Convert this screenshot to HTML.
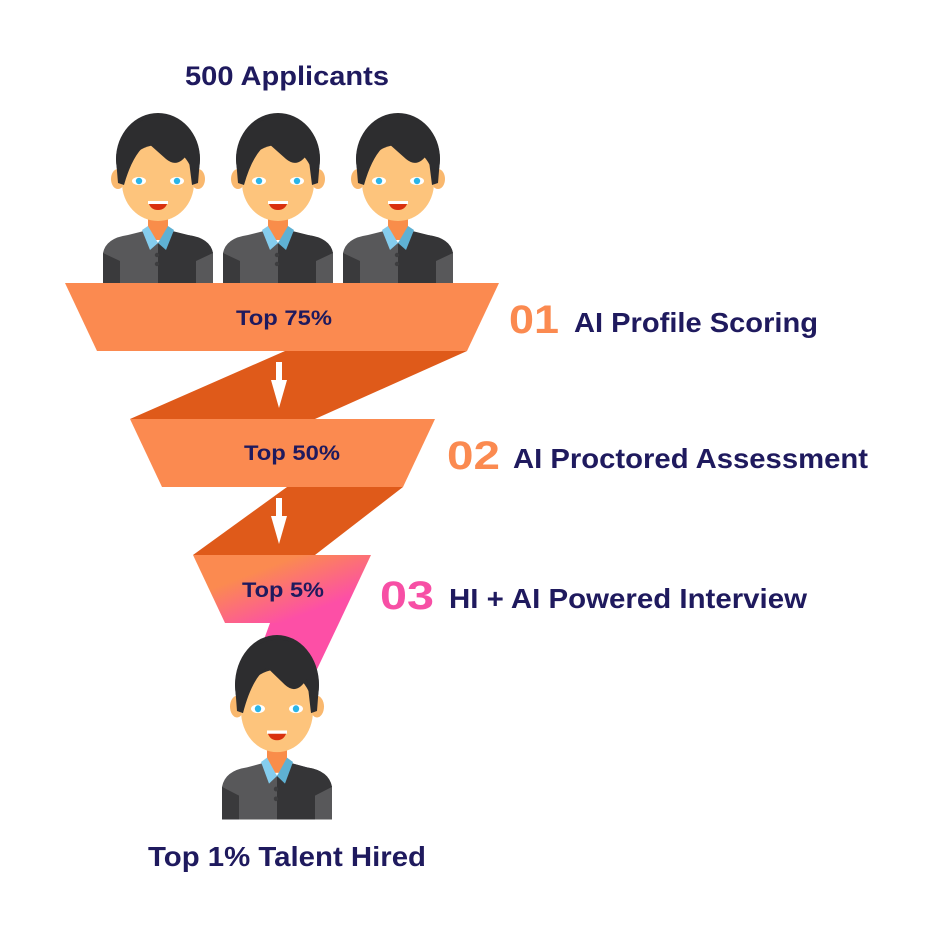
<!DOCTYPE html>
<html><head><meta charset="utf-8"><style>
html,body{margin:0;padding:0;background:#fff;width:925px;height:925px;overflow:hidden}
svg{display:block}
text{font-family:"Liberation Sans",sans-serif;font-weight:bold}
</style></head><body>
<svg width="925" height="925" viewBox="0 0 925 925">
<defs>
<linearGradient id="g3" x1="0" y1="0" x2="1" y2="1">
<stop offset="0.3" stop-color="#fb8a50"/><stop offset="0.75" stop-color="#fd4fa6"/>
</linearGradient>
<g id="person">
<ellipse cx="0" cy="46" rx="42" ry="46" fill="#2d2d2f"/>
<ellipse cx="-40" cy="66" rx="7" ry="10" fill="#f9b86e"/>
<ellipse cx="40" cy="66" rx="7" ry="10" fill="#f9b86e"/>
<rect x="-10" y="95" width="20" height="32" fill="#f98d4a"/>
<ellipse cx="0" cy="70" rx="36" ry="38" fill="#fdc47c"/>
<path d="M-42,46 Q-40,8 0,4 Q40,6 42,46 L40,70 L34,72 L30,40 Q20,56 8,46 L-10,30 Q-25,40 -34,72 L-40,70 Z" fill="#2d2d2f"/>
<ellipse cx="-19" cy="68" rx="7" ry="4" fill="#fff"/><circle cx="-19" cy="68" r="3.2" fill="#2bb5e8"/>
<ellipse cx="19" cy="68" rx="7" ry="4" fill="#fff"/><circle cx="19" cy="68" r="3.2" fill="#2bb5e8"/>
<path d="M-10,88 L10,88 Q8,97 0,97 Q-8,97 -10,88 Z" fill="#d9300e"/>
<rect x="-10" y="88" width="20" height="3" fill="#fff"/>
<path d="M-55,170 L-55,140 Q-52,125 -30,122 L-10,117 L0,130 L10,117 L30,122 Q52,125 55,140 L55,170 Z" fill="#58585a"/>
<path d="M0,130 L10,117 L30,122 Q52,125 55,140 L55,170 L0,170 Z" fill="#353537"/>
<path d="M-55,170 L-55,140 L-38,148 L-38,170 Z" fill="#3a3a3c"/>
<path d="M55,170 L55,140 L38,148 L38,170 Z" fill="#58585a"/>
<path d="M-16,117 L-10,113 L0,130 L-8,137 Z" fill="#85cdee"/>
<path d="M16,117 L10,113 L0,130 L8,137 Z" fill="#5fb1d3"/>
<circle cx="-1" cy="142" r="2.2" fill="#3d3d3f"/><circle cx="-1" cy="151" r="2.2" fill="#3d3d3f"/>
</g>
</defs>

<text x="185" y="85" font-size="27" fill="#1f1a5e" textLength="204" lengthAdjust="spacingAndGlyphs">500 Applicants</text>

<use href="#person" x="158" y="113"/>
<use href="#person" x="278" y="113"/>
<use href="#person" x="398" y="113"/>

<polygon points="285,351 467,351 315,419 130,419" fill="#df5a1a"/>
<polygon points="287,487 403,487 315,555 193,555" fill="#df5a1a"/>
<polygon points="270,623 339,623 300,705 240,705" fill="#fd4fa6"/>

<polygon points="65,283 499,283 467,351 97,351" fill="#fb8a50"/>
<polygon points="130,419 435,419 403,487 162,487" fill="#fb8a50"/>
<polygon points="193,555 371,555 339,623 225,623" fill="url(#g3)"/>

<g fill="#fff"><rect x="276" y="362" width="6" height="20"/><polygon points="271,380 287,380 279,408"/></g>
<g fill="#fff"><rect x="276" y="498" width="6" height="20"/><polygon points="271,516 287,516 279,544"/></g>

<text x="236" y="325" font-size="21" fill="#1f1a5e" textLength="96" lengthAdjust="spacingAndGlyphs">Top 75%</text>
<text x="244" y="460" font-size="21" fill="#1f1a5e" textLength="96" lengthAdjust="spacingAndGlyphs">Top 50%</text>
<text x="242" y="597" font-size="21" fill="#1f1a5e" textLength="82" lengthAdjust="spacingAndGlyphs">Top 5%</text>

<text x="509" y="333" font-size="40" fill="#fb8a50" textLength="50" lengthAdjust="spacingAndGlyphs">01</text>
<text x="574" y="332" font-size="28" fill="#1f1a5e" textLength="244" lengthAdjust="spacingAndGlyphs">AI Profile Scoring</text>
<text x="447" y="469" font-size="40" fill="#fb8a50" textLength="53" lengthAdjust="spacingAndGlyphs">02</text>
<text x="513" y="468" font-size="28" fill="#1f1a5e" textLength="355" lengthAdjust="spacingAndGlyphs">AI Proctored Assessment</text>
<text x="380" y="609" font-size="40" fill="#f74fa5" textLength="54" lengthAdjust="spacingAndGlyphs">03</text>
<text x="449" y="608" font-size="28" fill="#1f1a5e" textLength="358" lengthAdjust="spacingAndGlyphs">HI + AI Powered Interview</text>

<use href="#person" transform="translate(277,635) scale(1,1.085)"/>

<text x="148" y="866" font-size="28" fill="#1f1a5e" textLength="278" lengthAdjust="spacingAndGlyphs">Top 1% Talent Hired</text>
</svg>
</body></html>
